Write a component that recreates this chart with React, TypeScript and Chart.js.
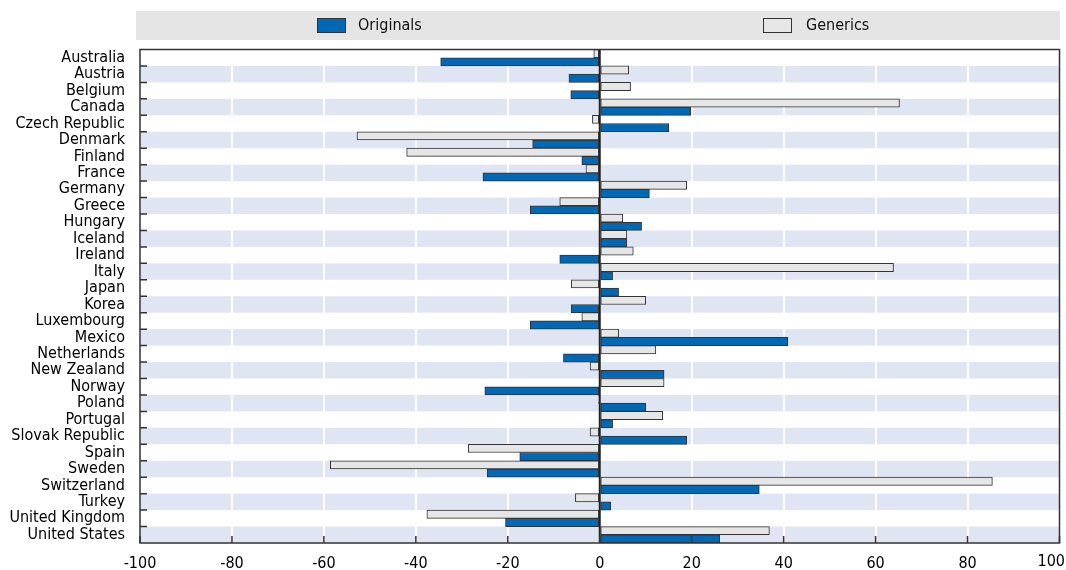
import React, { useEffect, useRef } from 'react';
import { Chart, registerables } from 'chart.js';

Chart.register(...registerables);

const categories = [
  'Australia', 'Austria', 'Belgium', 'Canada', 'Czech Republic', 'Denmark', 'Finland', 'France',
  'Germany', 'Greece', 'Hungary', 'Iceland', 'Ireland', 'Italy', 'Japan', 'Korea', 'Luxembourg',
  'Mexico', 'Netherlands', 'New Zealand', 'Norway', 'Poland', 'Portugal', 'Slovak Republic',
  'Spain', 'Sweden', 'Switzerland', 'Turkey', 'United Kingdom', 'United States',
];

const originals = [
  -34.6, -6.7, -6.3, 19.8, 15.0, -14.6, -3.9, -25.4, 10.8, -15.1, 9.1, 5.9, -8.7, 2.8, 4.1,
  -6.2, -15.1, 40.9, -7.9, 14.0, -25.0, 10.0, 2.8, 18.9, -17.4, -24.5, 34.7, 2.4, -20.5, 26.1,
];

const generics = [
  -1.3, 6.3, 6.7, 65.2, -1.6, -52.8, -42.0, -3.0, 18.9, -8.7, 5.0, 5.9, 7.3, 63.9, -6.2,
  10.0, -3.9, 4.1, 12.2, -2.1, 14.0, -0.3, 13.7, -2.1, -28.6, -58.6, 85.4, -5.3, -37.6, 36.9,
];

const xTicks = [-100, -80, -60, -40, -20, 0, 20, 40, 60, 80, 100];

const FONT = '"DejaVu Sans Condensed", "Liberation Sans Narrow", "Liberation Sans", sans-serif';
const BLUE = '#0068b4';
const GREY = '#e6e6e6';
const EDGE = '#333333';
const BAND = '#dfe5f3';
const LEGEND_BG = '#e5e5e6';

const decorPlugin = {
  id: 'decor',
  beforeDraw(chart: any) {
    const { ctx, chartArea: a, scales } = chart;
    const y = scales.y;
    const n = categories.length;
    const h = (a.bottom - a.top) / n;
    ctx.save();
    ctx.fillStyle = BAND;
    for (let i = 1; i < n; i += 2) {
      const c = y.getPixelForValue(i);
      ctx.fillRect(a.left, c - h / 2, a.right - a.left, h);
    }
    ctx.restore();
  },
  afterDatasetsDraw(chart: any) {
    const { ctx, chartArea: a, scales } = chart;
    const x = scales.x;
    const y = scales.y;
    const n = categories.length;
    const h = (a.bottom - a.top) / n;
    ctx.save();
    const x0 = x.getPixelForValue(0);
    ctx.strokeStyle = '#222';
    ctx.lineWidth = 2;
    ctx.beginPath();
    ctx.moveTo(x0, a.top);
    ctx.lineTo(x0, a.bottom);
    ctx.stroke();
    ctx.strokeStyle = EDGE;
    ctx.lineWidth = 1.5;
    ctx.beginPath();
    for (let i = 0; i < n - 1; i++) {
      const yy = y.getPixelForValue(i) + h / 2;
      ctx.moveTo(a.left, yy);
      ctx.lineTo(a.left + 7, yy);
    }
    for (const t of xTicks) {
      const xx = x.getPixelForValue(t);
      ctx.moveTo(xx, a.bottom);
      ctx.lineTo(xx, a.bottom - 7);
    }
    ctx.stroke();
    ctx.strokeStyle = EDGE;
    ctx.lineWidth = 1.5;
    ctx.strokeRect(a.left, a.top, a.right - a.left, a.bottom - a.top);
    ctx.restore();
  },
  afterDraw(chart: any) {
    const { ctx, chartArea: a, scales } = chart;
    ctx.save();
    // last x tick label, kept inside the canvas
    const last = xTicks[xTicks.length - 1];
    ctx.font = `16px ${FONT}`;
    ctx.fillStyle = '#000';
    ctx.textAlign = 'right';
    ctx.textBaseline = 'top';
    const px = scales.x.getPixelForValue(last);
    const w = ctx.measureText(String(last)).width;
    const right = Math.min(px + w / 2, chart.width - 1);
    ctx.fillText(String(last), right, a.bottom + 11);
    // legend
    ctx.fillStyle = LEGEND_BG;
    ctx.fillRect(136, 11, 1060 - 136, 29);
    const items = [
      { label: 'Originals', color: BLUE, bx: 317, tx: 358 },
      { label: 'Generics', color: GREY, bx: 763, tx: 806 },
    ];
    ctx.textBaseline = 'middle';
    ctx.textAlign = 'left';
    for (const it of items) {
      ctx.fillStyle = it.color;
      ctx.fillRect(it.bx, 18, 28, 14);
      ctx.strokeStyle = EDGE;
      ctx.lineWidth = 1;
      ctx.strokeRect(it.bx + 0.5, 18.5, 28, 14);
      ctx.fillStyle = '#111';
      ctx.fillText(it.label, it.tx, 25.5);
    }
    ctx.restore();
  },
};

export default function App() {
  const ref = useRef<HTMLCanvasElement>(null);
  useEffect(() => {
    document.body.style.margin = '0';
    const canvas = ref.current;
    if (!canvas) return;
    const chart = new Chart(canvas, {
      type: 'bar',
      data: {
        labels: categories,
        datasets: [
          {
            label: 'Generics',
            data: generics,
            backgroundColor: GREY,
            borderColor: EDGE,
            borderWidth: 1,
            borderSkipped: false,
            categoryPercentage: 1,
            barPercentage: 1,
          },
          {
            label: 'Originals',
            data: originals,
            backgroundColor: BLUE,
            borderColor: EDGE,
            borderWidth: 1,
            borderSkipped: false,
            categoryPercentage: 1,
            barPercentage: 1,
          },
        ],
      },
      options: {
        indexAxis: 'y',
        responsive: false,
        animation: false,
        events: [],
        layout: { padding: { top: 49.5, right: 6.5, bottom: 0, left: 0 } },
        plugins: { legend: { display: false }, tooltip: { enabled: false } },
        scales: {
          x: {
            type: 'linear',
            min: -100,
            max: 100,
            afterBuildTicks: (s: any) => {
              s.ticks = xTicks.map((v) => ({ value: v }));
            },
            ticks: {
              color: '#000',
              font: { family: FONT, size: 16 },
              padding: 11,
              maxRotation: 0,
              callback: (v: any) => (v === xTicks[xTicks.length - 1] ? '' : String(v)),
            },
            grid: { color: '#ffffff', lineWidth: 2, drawTicks: false },
            border: { display: false },
            afterFit: (s: any) => {
              s.height = 27;
              s.paddingLeft = 0;
              s.paddingRight = 0;
            },
          },
          y: {
            type: 'category',
            ticks: { color: '#000', font: { family: FONT, size: 16 }, padding: 15, autoSkip: false },
            grid: { display: false, drawTicks: false },
            border: { display: false },
            afterFit: (s: any) => {
              s.width = 140;
              s.paddingTop = 0;
              s.paddingBottom = 0;
            },
          },
        },
      },
      plugins: [decorPlugin],
    } as any);
    return () => chart.destroy();
  }, []);
  return <canvas ref={ref} width={1066} height={570} style={{ display: 'block' }} />;
}
